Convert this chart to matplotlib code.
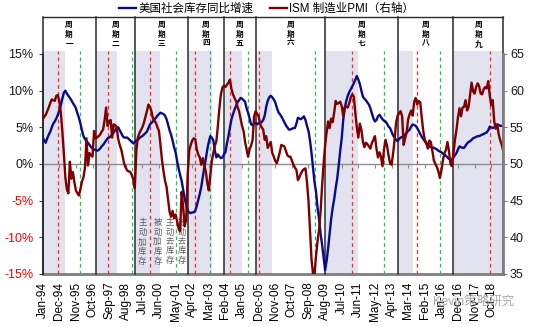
import numpy as np
import pandas as pd
import matplotlib
matplotlib.use('Agg')
import matplotlib.pyplot as plt
from matplotlib.lines import Line2D

plt.rcParams['font.family'] = ['Liberation Sans', 'Noto Sans CJK SC']

# monthly data, Jan-1994 .. Jun-2019
inventory_yoy = [
    3.6, 3.2, 2.9, 3.5, 4.0, 4.4, 5.0, 5.5, 5.8, 6.2, 6.7, 7.3,
    8.0, 8.9, 9.7, 10.0, 9.6, 9.3, 9.0, 8.7, 8.3, 8.0, 7.6, 6.9,
    6.3, 5.5, 4.6, 3.8, 3.4, 3.1, 2.9, 2.6, 2.3, 2.1, 2.0, 1.9,
    1.8, 1.9, 2.1, 2.4, 2.6, 2.9, 3.2, 3.5, 3.6, 3.8, 4.0, 4.3,
    4.6, 4.9, 5.0, 4.6, 4.2, 3.8, 3.6, 3.6, 3.6, 3.4, 3.2, 3.0,
    2.8, 3.0, 3.2, 3.3, 3.5, 3.7, 3.8, 4.0, 4.2, 4.4, 4.9, 5.4,
    5.6, 5.8, 6.1, 6.3, 6.6, 6.8, 7.0, 6.9, 6.8, 6.6, 6.1, 5.4,
    4.6, 4.0, 3.2, 2.3, 1.6, 0.4, -0.6, -1.5, -2.3, -3.5, -4.7, -5.6,
    -6.4, -6.6, -6.7, -6.6, -6.6, -6.4, -5.7, -4.9, -4.1, -3.1, -1.8, -0.5,
    0.7, 2.0, 3.0, 3.8, 3.6, 3.2, 1.8, 0.9, 1.3, 1.0, 0.8, 0.9,
    1.3, 1.6, 2.8, 3.8, 5.0, 6.1, 6.8, 7.4, 7.9, 8.4, 8.7, 9.0,
    8.9, 8.7, 8.5, 7.6, 7.0, 6.2, 5.4, 5.3, 5.5, 5.6, 5.4, 5.6,
    5.6, 5.7, 6.0, 6.6, 7.8, 8.6, 9.1, 9.3, 9.1, 8.8, 8.4, 7.7,
    7.1, 6.8, 6.5, 6.1, 5.7, 5.3, 5.0, 4.7, 4.7, 4.8, 4.9, 4.9,
    5.5, 6.3, 6.2, 6.1, 6.3, 6.5, 6.0, 5.2, 4.5, 3.2, 1.5, -0.5,
    -2.5, -3.8, -6.0, -7.5, -9.5, -11.0, -12.8, -14.5, -13.2, -11.5, -9.5, -7.5,
    -6.0, -4.8, -3.3, -2.0, -0.2, 1.8, 3.5, 6.0, 7.6, 8.6, 9.3, 9.8,
    10.2, 10.6, 11.0, 11.5, 12.0, 11.5, 10.9, 10.0, 9.2, 8.9, 8.7, 8.4,
    8.1, 7.6, 6.9, 6.2, 5.8, 6.0, 6.5, 6.7, 6.4, 6.1, 5.9, 5.8,
    5.5, 5.1, 4.9, 4.4, 3.9, 3.6, 3.3, 3.1, 3.4, 3.6, 3.7, 3.8,
    4.0, 4.3, 4.5, 4.7, 5.1, 5.4, 5.3, 5.2, 4.9, 4.5, 4.1, 3.7,
    3.4, 3.1, 2.8, 2.6, 2.4, 2.3, 2.3, 2.2, 2.1, 2.0, 1.8, 1.7,
    1.6, 1.4, 1.3, 1.1, 0.9, 0.7, 0.6, 0.6, 0.9, 1.2, 1.5, 2.0,
    2.4, 2.3, 2.2, 2.2, 2.5, 2.8, 3.0, 3.1, 3.3, 3.5, 3.6, 3.7,
    3.8, 3.8, 3.9, 4.0, 4.1, 4.2, 4.3, 4.6, 5.1, 5.0, 4.9, 5.0,
    5.2, 5.4, 5.3, 5.2, 5.2, 5.2,
]

ism_pmi = [
    56.1, 56.4, 56.7, 57.2, 57.7, 58.3, 58.8, 58.7, 58.6, 59.3, 59.4, 58.6,
    57.0, 54.5, 51.5, 48.2, 46.5, 46.0, 50.3, 48.0, 48.9, 47.5, 46.4, 46.0,
    45.7, 46.6, 47.6, 48.2, 49.5, 53.5, 49.8, 51.5, 51.2, 51.0, 54.5, 53.5,
    53.6, 53.8, 54.0, 54.4, 54.7, 56.0, 57.7, 55.2, 55.8, 56.0, 53.6, 55.4,
    55.3, 55.0, 53.4, 52.6, 52.0, 51.0, 50.0, 49.5, 49.1, 49.0, 48.9, 48.5,
    47.9, 46.7, 51.8, 53.6, 54.2, 54.6, 55.0, 55.6, 56.4, 57.2, 58.1, 57.8,
    57.2, 56.2, 55.9, 55.6, 55.0, 54.5, 52.6, 50.5, 49.0, 47.7, 46.9, 45.2,
    43.5, 42.8, 43.6, 42.6, 43.1, 42.2, 41.2, 40.8, 46.2, 44.2, 41.5, 42.4,
    48.5, 51.8, 52.6, 53.2, 53.5, 53.4, 52.0, 51.3, 50.9, 49.9, 50.8, 49.8,
    49.0, 47.4, 46.4, 48.5, 50.4, 51.5, 52.5, 53.1, 55.2, 57.6, 59.5, 60.4,
    60.7, 60.5, 60.8, 61.1, 61.5, 60.2, 59.5, 59.0, 58.6, 57.8, 57.2, 56.2,
    55.2, 54.5, 53.0, 52.0, 51.0, 52.0, 52.5, 53.3, 56.5, 57.2, 56.8, 56.5,
    55.4, 55.0, 54.7, 53.3, 53.8, 52.2, 52.6, 53.0, 51.5, 51.0, 50.4, 50.1,
    50.8, 51.6, 52.6, 52.5, 52.4, 51.8, 51.2, 51.0, 51.0, 50.5, 49.9, 49.5,
    49.2, 47.8, 48.2, 48.7, 49.1, 49.3, 49.4, 47.5, 45.0, 41.0, 37.0, 35.0,
    35.0, 37.5, 39.5, 41.0, 43.5, 47.0, 50.0, 52.5, 54.3, 55.8, 54.9, 56.2,
    55.7, 57.0, 58.6, 58.2, 58.3, 58.5, 57.9, 56.5, 57.8, 57.8, 57.7, 58.3,
    59.1, 59.5, 59.2, 57.0, 55.0, 53.6, 55.5, 54.7, 53.1, 52.3, 52.9, 52.7,
    52.4, 52.1, 52.9, 53.3, 53.8, 52.1, 50.9, 51.6, 51.0, 49.7, 52.0, 53.3,
    52.5, 51.2, 50.1, 49.9, 51.4, 53.3, 55.6, 56.6, 56.9, 57.2, 56.5, 52.6,
    53.5, 54.3, 56.1, 56.8, 57.3, 56.6, 58.5, 59.0, 58.1, 58.6, 58.4, 56.3,
    54.5, 53.3, 52.9, 52.1, 53.2, 53.0, 51.8, 50.5, 50.0, 49.6, 49.0, 48.1,
    49.1, 50.5, 51.5, 51.9, 53.0, 51.8, 50.0, 49.7, 51.5, 53.3, 54.7, 56.4,
    57.6, 56.5, 57.7, 57.8, 58.7, 57.3, 57.8, 59.5, 61.1, 59.9, 59.6, 60.5,
    61.0, 60.6, 59.6, 59.5, 60.2, 60.5, 60.3, 61.3, 59.4, 58.0, 58.7, 55.8,
    54.8, 55.4, 54.0, 53.2, 52.6, 51.7,
]

months = pd.date_range('1994-01-01', periods=len(ism_pmi), freq='MS')
assert len(inventory_yoy) == len(months)

cycle_names = ['周期一', '周期二', '周期三', '周期四', '周期五',
               '周期六', '周期七', '周期八', '周期九']
cycle_bounds = ['1994-01', '1996-12', '1999-02', '2002-01', '2004-01',
                '2005-10', '2009-08', '2013-08', '2016-09', '2019-06']
band_ends = ['1995-04', '1998-02', '2000-07', '2003-05', '2005-01',
             '2006-09', '2011-06', '2014-06', '2019-06']
red_marks = ['1994-11', '1997-08', '1999-12', '2002-06', '2004-05',
             '2005-12', '2011-02', '2014-09', '2018-09']
green_marks = ['1996-02', '1998-12', '2001-05', '2003-04', '2005-05',
               '2009-01', '2012-11', '2015-12']
stage_names = ['主动加库存', '被动加库存', '主动去库存', '被动去库存']
stage_at = ['1999-07', '2000-05', '2001-01', '2001-09']

tick_step = 11
x_ticks = list(range(0, len(months), tick_step))
x_labels = [months[i].strftime('%b-%y') for i in x_ticks]


def midx(s):
    p = pd.Period(s, 'M')
    return (p.year - 1994) * 12 + p.month - 1


x = np.arange(len(months))
LAV = '#E3E3EF'
HEAD = 1.167

fig = plt.figure(figsize=(5.33, 3.27), dpi=100)
ax = fig.add_axes([0.0801, 0.1621, 0.8642, 0.6728])
ax2 = ax.twinx()

for s, e in zip(cycle_bounds[:-1], band_ends):
    ax.axvspan(midx(s), midx(e), ymin=0, ymax=1.012, color=LAV, lw=0,
               zorder=0, clip_on=False)
for d in red_marks:
    ax.axvline(midx(d), ymax=1.012, color='#FF2A2A', lw=0.9,
               ls=(0, (3, 2.5)), zorder=1, clip_on=False)
for d in green_marks:
    ax.axvline(midx(d), ymax=1.012, color='#21C05A', lw=0.9,
               ls=(0, (3, 2.5)), zorder=1, clip_on=False)
for d in cycle_bounds:
    ax.axvline(midx(d), ymin=0, ymax=HEAD, color='#2a2a2a', lw=1.1,
               zorder=3, clip_on=False)
ax.plot([0, 1], [HEAD, HEAD], transform=ax.transAxes, color='#2a2a2a',
        lw=1, clip_on=False)

xt = ax.get_xaxis_transform()
for i, name in enumerate(cycle_names):
    xc = (midx(cycle_bounds[i]) + midx(cycle_bounds[i + 1])) / 2
    ax.text(xc, 1.086, '\n'.join(name), transform=xt, ha='center',
            va='center', fontsize=5.5, fontweight='bold', linespacing=1.3)

for name, d in zip(stage_names, stage_at):
    ax.text(midx(d), -7.5, '\n'.join(name), ha='center', va='top',
            fontsize=6, color='#595959', linespacing=1.25, zorder=5)

ax.plot(x, inventory_yoy, color='#0A0A8C', lw=1.7, zorder=4)
ax2.plot(x, ism_pmi, color='#7F0000', lw=1.7)

ax.set_xlim(0, len(months) - 1)
ax.set_ylim(-15, 15)
ax2.set_ylim(35, 65)

yt = list(range(-15, 16, 5))
ax.set_yticks(yt, labels=[f'{v}%' for v in yt])
for lab, v in zip(ax.get_yticklabels(), yt):
    lab.set_color('#FF0000' if v < 0 else '#1a1a1a')
ax.tick_params(axis='y', length=3, color='#404040', pad=3.5, labelsize=9)
ax2.set_yticks(range(35, 66, 5))
ax2.tick_params(axis='y', length=3, color='#7F7F7F', pad=1.8, labelsize=9,
                labelcolor='#1a1a1a')

ax.set_xticks(x_ticks)
ax.tick_params(axis='x', length=3, color='#8C8C8C', labelbottom=False)
ax.spines['bottom'].set_position(('data', 0))
ax.spines['bottom'].set_color('#8C8C8C')
ax.spines['bottom'].set_linewidth(1)
ax.spines['left'].set_color('#1a1a1a')
ax.spines['left'].set_linewidth(1.2)
for sp in ['top', 'right']:
    ax.spines[sp].set_visible(False)
for sp in ['top', 'left', 'bottom']:
    ax2.spines[sp].set_visible(False)
ax2.spines['right'].set_color('#7F7F7F')
ax2.spines['right'].set_linewidth(2)

sec = ax.secondary_xaxis('bottom')
sec.set_xticks(x_ticks, labels=x_labels)
sec.tick_params(length=0, pad=5.5, labelsize=8.5, labelrotation=90)
sec.spines['bottom'].set_color('#7F7F7F')
sec.spines['bottom'].set_linewidth(2)

handles = [Line2D([], [], color='#0A0A8C', lw=1.7),
           Line2D([], [], color='#7F0000', lw=1.7)]
fig.legend(handles, ['美国社会库存同比增速', 'ISM 制造业PMI（右轴）'],
           loc='center', bbox_to_anchor=(0.5, 0.973), ncol=2, frameon=False,
           fontsize=8.3, handlelength=1.5, handletextpad=0.2,
           columnspacing=1.4)

fig.text(0.812, 0.073, 'Kevin策略研究', fontsize=9, color='#9a9a9a',
         alpha=0.85, va='center')

fig.savefig('out.png', dpi=100)
